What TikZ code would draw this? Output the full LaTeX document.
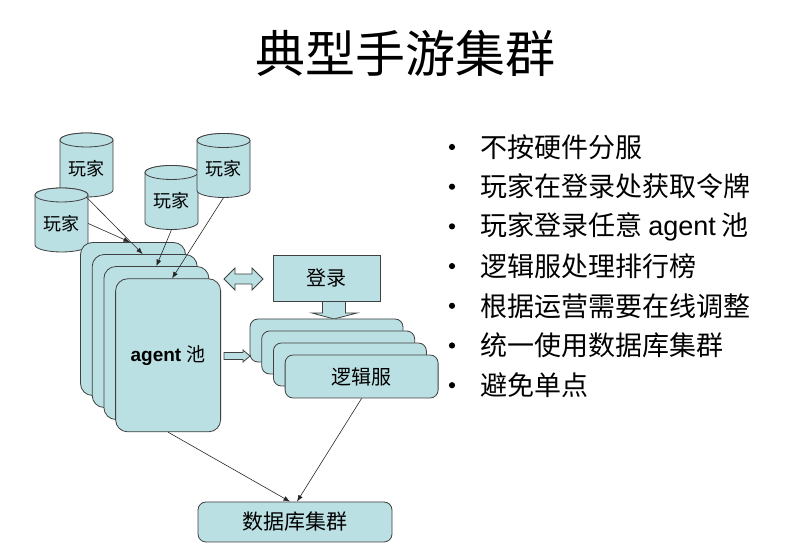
\documentclass[tikz,border=0pt]{standalone}
\usepackage{fontspec}
\setmainfont{Liberation Sans}
\newfontfamily\cjk{Noto Sans CJK SC}
\usetikzlibrary{arrows.meta}
\definecolor{tealfill}{HTML}{BBE0E3}
\definecolor{edgegray}{HTML}{404040}
\tikzset{
  cylpath/.style={draw=edgegray, fill=tealfill, line width=0.8pt},
  cyltext/.style={minimum width=53pt, minimum height=57pt, inner sep=0pt, font=\cjk\fontsize{18}{20}\selectfont},
  agentcard/.style={draw=edgegray, fill=tealfill, line width=0.8pt, rounded corners=12pt, minimum width=105pt, minimum height=153pt, inner sep=0pt},
  logiccard/.style={draw=edgegray, fill=tealfill, line width=0.8pt, rounded corners=8pt, minimum width=153pt, minimum height=43pt, inner sep=0pt, font=\cjk\fontsize{20}{22}\selectfont},
  loginbox/.style={draw=edgegray, fill=tealfill, line width=0.8pt, minimum width=107pt, minimum height=46pt, inner sep=0pt, font=\cjk\fontsize{20}{22}\selectfont},
  dbbox/.style={draw=edgegray, fill=tealfill, line width=0.8pt, rounded corners=8pt, minimum width=194pt, minimum height=40pt, inner sep=0pt, font=\cjk\fontsize{21}{23}\selectfont},
  link/.style={draw=black!85, line width=0.6pt, -{Latex[length=6.5pt,width=5pt]}},
  blockarrow/.style={draw=edgegray, fill=tealfill, line width=0.8pt, line join=miter},
  bullettext/.style={anchor=west, inner sep=0pt, font=\cjk\fontsize{27}{30}\selectfont},
  titletext/.style={font=\cjk\fontsize{50}{55}\selectfont}
}
\newcommand\mkcyl[4]{%
  \filldraw[cylpath] (#2-26.5,#3+25) -- (#2-26.5,#3-25)
    arc[start angle=180,end angle=360,x radius=26.5pt,y radius=7pt]
    -- (#2+26.5,#3+25)
    arc[start angle=0,end angle=180,x radius=26.5pt,y radius=7pt] -- cycle;
  \draw[cylpath] (#2,#3+25) ellipse[x radius=26.5pt,y radius=7pt];
  \node[cyltext] (#1) at (#2,#3-3.5) {#4};}
\begin{document}
\begin{tikzpicture}[x=1pt,y=1pt]
\path[use as bounding box] (0,0) rectangle (812,559);

% title
\node[titletext] (title) at (405,506) {典型手游集群};

% players
\mkcyl{pA}{86.5}{394}{玩家}
\mkcyl{pB}{61.5}{339}{玩家}
\mkcyl{pC}{171.5}{361.5}{玩家}
\mkcyl{pD}{223.5}{393.5}{玩家}

% agent pool cards
\node[agentcard] (a1) at (133,240) {};
\node[agentcard] (a2) at (144.7,228) {};
\node[agentcard] (a3) at (156.4,216) {};
\node[agentcard, font=\fontsize{19}{21}\selectfont] (a4) at (168.1,203.7) {\textbf{agent} {\cjk 池}};

% double block arrow agent <-> login
\path[blockarrow] (224,280) -- (235,291) -- (235,285) -- (252,285) -- (252,291)
  -- (263,280) -- (252,269) -- (252,275) -- (235,275) -- (235,269) -- cycle;

% down block arrow login -> logic
\path[blockarrow] (322.5,262) -- (322.5,246) -- (312,246) -- (334,240) -- (357,246)
  -- (345.5,246) -- (345.5,262) -- cycle;

% login box
\node[loginbox] (login) at (326.5,281) {登录};

% logic cards
\node[logiccard] (l1) at (326.5,218.5) {};
\node[logiccard] (l2) at (338.2,206.5) {};
\node[logiccard] (l3) at (349.9,194.5) {};
\node[logiccard] (l4) at (361.6,182.5) {逻辑服};

% right block arrow agent -> logic
\path[blockarrow] (224,206.5) -- (243,206.5) -- (243,209) -- (250,203) -- (243,197)
  -- (243,199.5) -- (224,199.5) -- cycle;

% database
\node[dbbox] (db) at (295,37) {数据库集群};

% connectors
\draw[link] (pB.east) -- ([xshift=-3pt]a1.north);
\draw[link] (pA.south) -- ([xshift=-2pt]a2.north);
\draw[link] (pC.south) -- (a3.north);
\draw[link] (pD.south) -- ([xshift=4pt]a4.north);
\draw[link] (a4.south) -- ([xshift=-5pt]db.north);
\draw[link] (l4.south) -- ([xshift=2pt]db.north);

% bullet list
\foreach \yy in {412,372.3,332.6,292.9,253.2,213.5,173.8}
  \fill (452,\yy) circle (3.1pt);
\node[bullettext] (b1) at (480,412) {不按硬件分服};
\node[bullettext] (b2) at (480,372.3) {玩家在登录处获取令牌};
\node[bullettext] (b3) at (480,332.6) {玩家登录任意 {\rmfamily agent} 池};
\node[bullettext] (b4) at (480,292.9) {逻辑服处理排行榜};
\node[bullettext] (b5) at (480,253.2) {根据运营需要在线调整};
\node[bullettext] (b6) at (480,213.5) {统一使用数据库集群};
\node[bullettext] (b7) at (480,173.8) {避免单点};
\end{tikzpicture}
\end{document}
